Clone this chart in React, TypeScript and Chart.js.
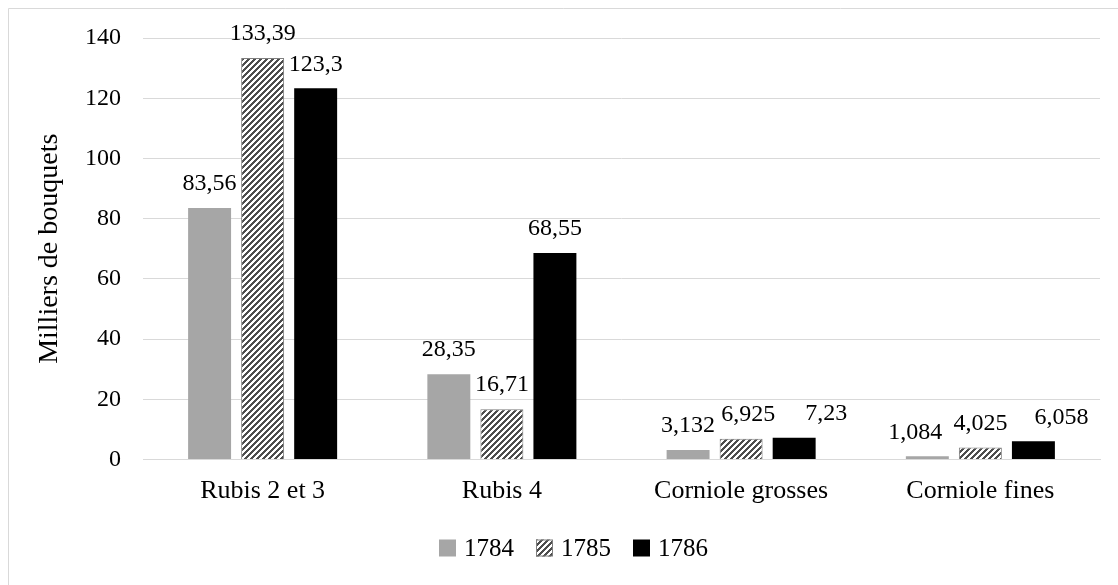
import React, { useEffect, useRef } from "react";
import { Chart, registerables } from "chart.js";

Chart.register(...registerables);

const categories = ["Rubis 2 et 3", "Rubis 4", "Corniole grosses", "Corniole fines"];
const seriesNames = ["1784", "1785", "1786"];
const values1784 = [83.56, 28.35, 3.132, 1.084];
const values1785 = [133.39, 16.71, 6.925, 4.025];
const values1786 = [123.3, 68.55, 7.23, 6.058];
const yMin = 0;
const yMax = 140;
const yStep = 20;
const yTitle = "Milliers de bouquets";

const FONT = "'Liberation Serif', 'Times New Roman', serif";

function makeHatch(): CanvasPattern | string {
  const c = document.createElement("canvas");
  const p = 6;
  c.width = p;
  c.height = p;
  const g = c.getContext("2d");
  if (!g) return "#777";
  g.fillStyle = "#ffffff";
  g.fillRect(0, 0, p, p);
  g.fillStyle = "#4d4d4d";
  for (let x = 0; x < p; x++) {
    for (let y = 0; y < p; y++) {
      if ((x + y) % p < 3) g.fillRect(x, y, 1, 1);
    }
  }
  const pat = g.createPattern(c, "repeat");
  return pat || "#777";
}

const fmt = (v: number) => String(v).replace(".", ",");

export default function App() {
  const ref = useRef<HTMLCanvasElement | null>(null);
  useEffect(() => {
    if (!ref.current) return;
    const hatch = makeHatch();
    const labelShift: Record<string, number> = { "1-2": 7, "2-2": 32, "0-3": -12, "2-3": 28 };

    const frame = {
      id: "frame",
      beforeDraw(chart: any) {
        const ctx = chart.ctx;
        ctx.save();
        ctx.fillStyle = "#fff";
        ctx.fillRect(0, 0, chart.width, chart.height);
        ctx.strokeStyle = "#d9d9d9";
        ctx.lineWidth = 1;
        ctx.beginPath();
        ctx.moveTo(8.5, chart.height);
        ctx.lineTo(8.5, 8.5);
        ctx.lineTo(chart.width, 8.5);
        ctx.stroke();
        ctx.restore();
      },
    };

    const dataLabels = {
      id: "dataLabels",
      afterDatasetsDraw(chart: any) {
        const ctx = chart.ctx;
        ctx.save();
        ctx.font = `24px ${FONT}`;
        ctx.fillStyle = "#000";
        ctx.textAlign = "center";
        ctx.textBaseline = "middle";
        chart.data.datasets.forEach((ds: any, di: number) => {
          const meta = chart.getDatasetMeta(di);
          meta.data.forEach((bar: any, i: number) => {
            const dx = labelShift[`${di}-${i}`] || 0;
            ctx.fillText(fmt(ds.data[i]), bar.x + dx, bar.y - 24);
          });
        });
        ctx.restore();
      },
    };

    const legend = {
      id: "customLegend",
      afterDraw(chart: any) {
        const ctx = chart.ctx;
        ctx.save();
        ctx.font = `25px ${FONT}`;
        ctx.textBaseline = "middle";
        const box = 17;
        const gapText = 8;
        const gapItem = 22;
        const items = chart.data.datasets.map((ds: any) => ({
          ds,
          w: box + gapText + ctx.measureText(ds.label).width,
        }));
        const total = items.reduce((s: number, it: any) => s + it.w, 0) + gapItem * (items.length - 1);
        let x = Math.round(573 - total / 2);
        const cy = 548;
        items.forEach((it: any) => {
          const ds = it.ds;
          ctx.fillStyle = ds.backgroundColor;
          ctx.fillRect(x, cy - box / 2, box, box);
          if (ds.borderWidth) {
            ctx.strokeStyle = ds.borderColor;
            ctx.lineWidth = 1;
            ctx.strokeRect(x + 0.5, cy - box / 2 + 0.5, box - 1, box - 1);
          }
          ctx.fillStyle = "#000";
          ctx.textAlign = "left";
          ctx.fillText(ds.label, x + box + gapText, cy + 1);
          x += it.w + gapItem;
        });
        ctx.restore();
      },
    };

    const chart = new Chart(ref.current, {
      type: "bar",
      data: {
        labels: categories,
        datasets: [
          { label: seriesNames[0], data: values1784, backgroundColor: "#a6a6a6", borderWidth: 0 },
          { label: seriesNames[1], data: values1785, backgroundColor: hatch as any, borderColor: "#7f7f7f", borderWidth: 1 },
          { label: seriesNames[2], data: values1786, backgroundColor: "#000000", borderWidth: 0 },
        ],
      },
      options: {
        responsive: false,
        animation: false,
        devicePixelRatio: 1,
        layout: { padding: { left: 33, right: 18, top: 38, bottom: 65 } },
        datasets: { bar: { categoryPercentage: 0.665, barPercentage: 0.81 } },
        plugins: { legend: { display: false }, tooltip: { enabled: false } },
        scales: {
          x: {
            grid: { display: false, drawTicks: false },
            border: { display: true, color: "#d9d9d9", width: 1 },
            ticks: { padding: 16, color: "#000", font: { family: FONT, size: 26 } },
            afterFit(s: any) { s.height = 60.5; },
          },
          y: {
            min: yMin,
            max: yMax,
            ticks: { stepSize: yStep, padding: 22, color: "#000", font: { family: FONT, size: 24 } },
            grid: { color: "#d9d9d9", lineWidth: 1, drawTicks: false },
            border: { display: false },
            title: { display: true, text: yTitle, color: "#000", font: { family: FONT, size: 28 }, padding: { top: 0, bottom: 0 } },
            afterFit(s: any) { s.width = 110; },
          },
        },
      },
      plugins: [frame, dataLabels, legend],
    } as any);
    return () => chart.destroy();
  }, []);

  return (
    <div style={{ position: "absolute", left: 0, top: 0, width: 1118, height: 585 }}>
      <canvas ref={ref} width={1118} height={585} style={{ display: "block", width: 1118, height: 585 }} />
    </div>
  );
}
